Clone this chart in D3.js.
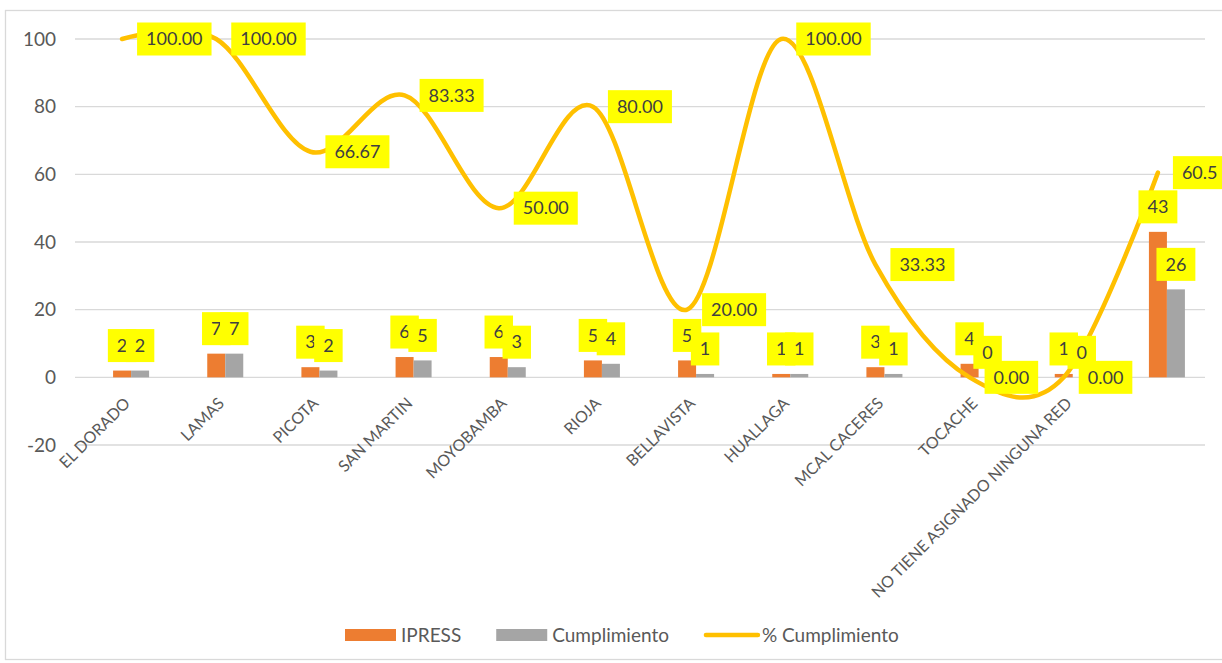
<!DOCTYPE html>
<html>
<head>
<meta charset="utf-8">
<script src="https://cdn.jsdelivr.net/npm/d3@7"></script>
<style>
  html, body { margin: 0; padding: 0; background: #fff; }
  svg { display: block; font-family: Lato, "Noto Sans", sans-serif; }
</style>
</head>
<body>
<div id="chart"></div>
<script>
// Datos por red
const categories = ['EL DORADO', 'LAMAS', 'PICOTA', 'SAN MARTIN', 'MOYOBAMBA', 'RIOJA',
  'BELLAVISTA', 'HUALLAGA', 'MCAL CACERES', 'TOCACHE', 'NO TIENE ASIGNADO NINGUNA RED', ''];
const ipress = [2, 7, 3, 6, 6, 5, 5, 1, 3, 4, 1, 43];
const cumplimiento = [2, 7, 2, 5, 3, 4, 1, 1, 1, 0, 0, 26];
const pctCumplimiento = [100, 100, 66.67, 83.33, 50, 80, 20, 100, 33.33, 0, 0, 60.5];
const pctLabels = ['100.00', '100.00', '66.67', '83.33', '50.00', '80.00', '20.00',
  '100.00', '33.33', '0.00', '0.00', '60.5'];
const yTicks = [-20, 0, 20, 40, 60, 80, 100];
const seriesNames = ['IPRESS', 'Cumplimiento', '% Cumplimiento'];

const W = 1222, H = 663;
const colors = { IPRESS: '#ED7D31', Cumplimiento: '#A5A5A5', line: '#FFC000' };

const svg = d3.select('#chart').append('svg')
  .attr('width', W).attr('height', H);

// marco del gráfico
svg.append('rect')
  .attr('x', 5.5).attr('y', 10.5)
  .attr('width', 1240).attr('height', 649)
  .attr('fill', '#fff').attr('stroke', '#D9D9D9').attr('stroke-width', 1.3);

const x = d3.scaleBand()
  .domain(categories.map((c, i) => i))
  .range([75, 1205])
  .paddingInner(0.4265)
  .paddingOuter(0.4265 / 2);

// 3 huecos por grupo: el primero queda vacío (como en el original)
const xSub = d3.scaleBand()
  .domain(['_', 'IPRESS', 'Cumplimiento'])
  .range([0, x.bandwidth()]);

const y = d3.scaleLinear().domain([-20, 100]).range([445, 39]);
const cx = i => x(i) + x.bandwidth() / 2;

// grid
svg.append('g').selectAll('line')
  .data(yTicks).enter().append('line')
  .attr('x1', 75).attr('x2', 1205)
  .attr('y1', d => y(d)).attr('y2', d => y(d))
  .attr('stroke', '#D9D9D9').attr('stroke-width', 1.3);

// etiquetas eje Y
svg.append('g').selectAll('text')
  .data(yTicks).enter().append('text')
  .attr('x', 56).attr('y', d => y(d))
  .attr('dy', '0.35em')
  .attr('text-anchor', 'end')
  .attr('font-size', 19)
  .attr('fill', '#595959')
  .text(d => d);

// etiquetas de categoría (rotadas)
svg.append('g').selectAll('text')
  .data(categories).enter().append('text')
  .attr('transform', (d, i) => `translate(${cx(i) + 9},${y(0) + 27}) rotate(-45)`)
  .attr('text-anchor', 'end')
  .attr('font-size', 16)
  .attr('fill', '#595959')
  .text(d => d);

// barras
const barSeries = [
  { key: 'IPRESS', values: ipress },
  { key: 'Cumplimiento', values: cumplimiento }
];

barSeries.forEach(s => {
  svg.append('g').selectAll('rect')
    .data(s.values).enter().append('rect')
    .attr('x', (d, i) => x(i) + xSub(s.key))
    .attr('width', xSub.bandwidth())
    .attr('y', d => y(d))
    .attr('height', d => y(0) - y(d))
    .attr('fill', colors[s.key]);
});

// línea suavizada
const line = d3.line()
  .x((d, i) => cx(i))
  .y(d => y(d))
  .curve(d3.curveCardinal.tension(0));

svg.append('path')
  .datum(pctCumplimiento)
  .attr('d', line)
  .attr('fill', 'none')
  .attr('stroke', colors.line)
  .attr('stroke-width', 4.5)
  .attr('stroke-linecap', 'round');

// etiquetas de datos con caja amarilla
const labelLayer = svg.append('g');
function boxLabel(txt, px, py, anchor) {
  const g = labelLayer.append('g');
  const t = g.append('text')
    .attr('font-size', 18)
    .attr('fill', '#404040')
    .attr('text-anchor', 'middle')
    .attr('dy', '0.35em')
    .text(txt);
  const w = t.node().getComputedTextLength() + 18;
  const h = 33;
  let bx, by;
  if (anchor === 'above') { bx = px - w / 2; by = py - 8.5 - h; }
  else { bx = px + 15; by = py - h / 2; }
  g.insert('rect', 'text')
    .attr('x', bx).attr('y', by)
    .attr('width', w).attr('height', h)
    .attr('fill', '#FFFF00');
  t.attr('x', bx + w / 2).attr('y', by + h / 2);
}

barSeries.forEach(s => {
  s.values.forEach((v, i) => {
    boxLabel(String(v), x(i) + xSub(s.key) + xSub.bandwidth() / 2, y(v), 'above');
  });
});
pctCumplimiento.forEach((v, i) => boxLabel(pctLabels[i], cx(i), y(v), 'right'));

// leyenda
const legend = svg.append('g').attr('transform', 'translate(345,635)');
let lx = 0;
seriesNames.forEach(name => {
  if (name === '% Cumplimiento') {
    legend.append('line')
      .attr('x1', lx + 2).attr('x2', lx + 54)
      .attr('y1', 0).attr('y2', 0)
      .attr('stroke', colors.line).attr('stroke-width', 4.5)
      .attr('stroke-linecap', 'round');
    lx += 58;
  } else {
    legend.append('rect')
      .attr('x', lx).attr('y', -6)
      .attr('width', 51).attr('height', 12)
      .attr('fill', colors[name]);
    lx += 56;
  }
  const t = legend.append('text')
    .attr('x', lx).attr('y', 0).attr('dy', '0.35em')
    .attr('font-size', 19)
    .attr('fill', '#595959')
    .text(name);
  lx += t.node().getComputedTextLength() + 35;
});
</script>
</body>
</html>
